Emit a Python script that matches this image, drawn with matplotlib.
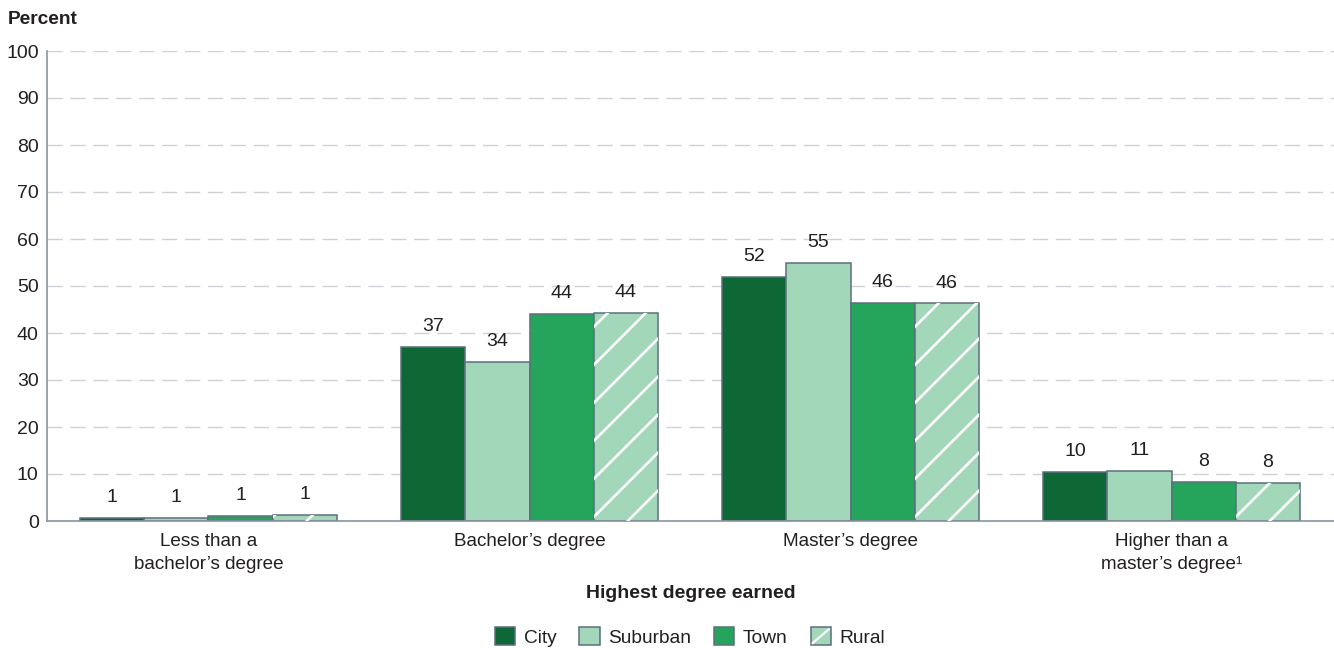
import numpy as np
import matplotlib
matplotlib.use("Agg")
import matplotlib.pyplot as plt
from matplotlib.patches import Rectangle
from matplotlib.lines import Line2D
from matplotlib.legend_handler import HandlerBase
from matplotlib.transforms import IdentityTransform

plt.rcParams['font.family'] = ['Liberation Sans', 'DejaVu Sans']

categories = ["Less than a\nbachelor\u2019s degree", "Bachelor\u2019s degree",
              "Master\u2019s degree", "Higher than a\nmaster\u2019s degree\u00b9"]
series_names = ["City", "Suburban", "Town", "Rural"]
city = [0.7, 37.0, 51.9, 10.4]
suburban = [0.6, 33.8, 54.9, 10.7]
town = [1.0, 44.0, 46.4, 8.3]
rural = [1.3, 44.2, 46.3, 8.1]
yticks = list(range(0, 101, 10))

colors = ["#0d6835", "#a3d7b9", "#25a55c", "#a3d7b9"]
hatched = [False, False, False, True]
edge = "#5c6f7d"
text_color = "#231f20"
fs = 14

fig = plt.figure(figsize=(13.34, 6.48), dpi=100)
ax = fig.add_axes([47 / 1334, (648 - 521) / 648, 1 - 47 / 1334, (521 - 51) / 648])

x = np.arange(len(categories))
width = 0.2
all_series = [city, suburban, town, rural]
bar_groups = []
for i, vals in enumerate(all_series):
    offs = (i - 1.5) * width
    bars = ax.bar(x + offs, vals, width, color=colors[i], edgecolor=edge,
                  linewidth=1.1, zorder=3)
    bar_groups.append(bars)
    for xi, v in zip(x + offs, vals):
        ax.annotate(f"{v:.0f}", (xi, v), xytext=(0, 8.5), textcoords="offset points",
                    ha="center", va="bottom", fontsize=fs, color=text_color)

ax.set_xlim(-0.503, 3.506)
ax.set_ylim(0, 100)
ax.set_yticks(yticks)
ax.set_xticks(x)
ax.set_xticklabels(categories, fontsize=13.6, color=text_color, linespacing=1.45)
ax.tick_params(axis="y", length=0, labelsize=fs, colors=text_color, pad=6)
ax.tick_params(axis="x", length=0, colors=text_color, pad=9)

for yv in yticks[1:]:
    ax.axhline(yv, color="#cdd2d7", linewidth=1.0, linestyle=(0, (11, 5.5)), zorder=1)

for s in ["top", "right"]:
    ax.spines[s].set_visible(False)
for s in ["left", "bottom"]:
    ax.spines[s].set_color("#8593a0")
    ax.spines[s].set_linewidth(1.2)
ax.spines["bottom"].set_zorder(4)

fig.text(8 / 1334, 1 - 20 / 648, "Percent", fontsize=fs - 0.2, fontweight="bold",
         color=text_color, ha="left", va="center")
fig.text((47 + 1334) / 2 / 1334, 1 - 594 / 648, "Highest degree earned", fontsize=fs,
         fontweight="bold", color=text_color, ha="center", va="center")

# sparse 45-degree hatch for the Rural bars, drawn in pixel space and clipped to each bar
fig.canvas.draw()
slope = 1.0
vstep = 38.0
for i, bars in enumerate(bar_groups):
    if not hatched[i]:
        continue
    for b in bars:
        bb = b.get_window_extent()
        x0, y0, x1, y1 = bb.x0, bb.y0, bb.x1, bb.y1
        w = x1 - x0
        c = 4.0 - vstep * np.ceil(slope * w / vstep + 1)
        while c < (y1 - y0) + vstep:
            ln = Line2D([x0, x1], [y0 + c, y0 + c + slope * w],
                        transform=IdentityTransform(), color="white", linewidth=1.9,
                        zorder=3.5)
            ln.set_clip_path(b)
            fig.add_artist(ln)
            c += vstep


class HatchSquare(HandlerBase):
    def create_artists(self, legend, orig_handle, xdescent, ydescent, width, height,
                       fontsize, trans):
        r = Rectangle((-xdescent, -ydescent), width, height,
                      facecolor=orig_handle.get_facecolor(),
                      edgecolor=edge, linewidth=1.1, transform=trans)
        artists = [r]
        if getattr(orig_handle, "_hatched_line", False):
            ln = Line2D([-xdescent + 1.5, -xdescent + width - 1.5],
                        [-ydescent + 1.5, -ydescent + height - 1.5],
                        color="white", linewidth=1.6, transform=trans)
            artists.append(ln)
        return artists


handles = []
for i in range(4):
    p = Rectangle((0, 0), 1, 1, facecolor=colors[i], edgecolor=edge)
    p._hatched_line = hatched[i]
    handles.append(p)

leg = fig.legend(handles, series_names, loc="center",
                 bbox_to_anchor=(690 / 1334, 1 - 637 / 648),
                 ncol=4, frameon=False, fontsize=13.8, handlelength=1.05, handleheight=1.05,
                 handletextpad=0.45, columnspacing=1.2,
                 handler_map={Rectangle: HatchSquare()})
for t in leg.get_texts():
    t.set_color(text_color)

fig.savefig("out.png", dpi=100)
